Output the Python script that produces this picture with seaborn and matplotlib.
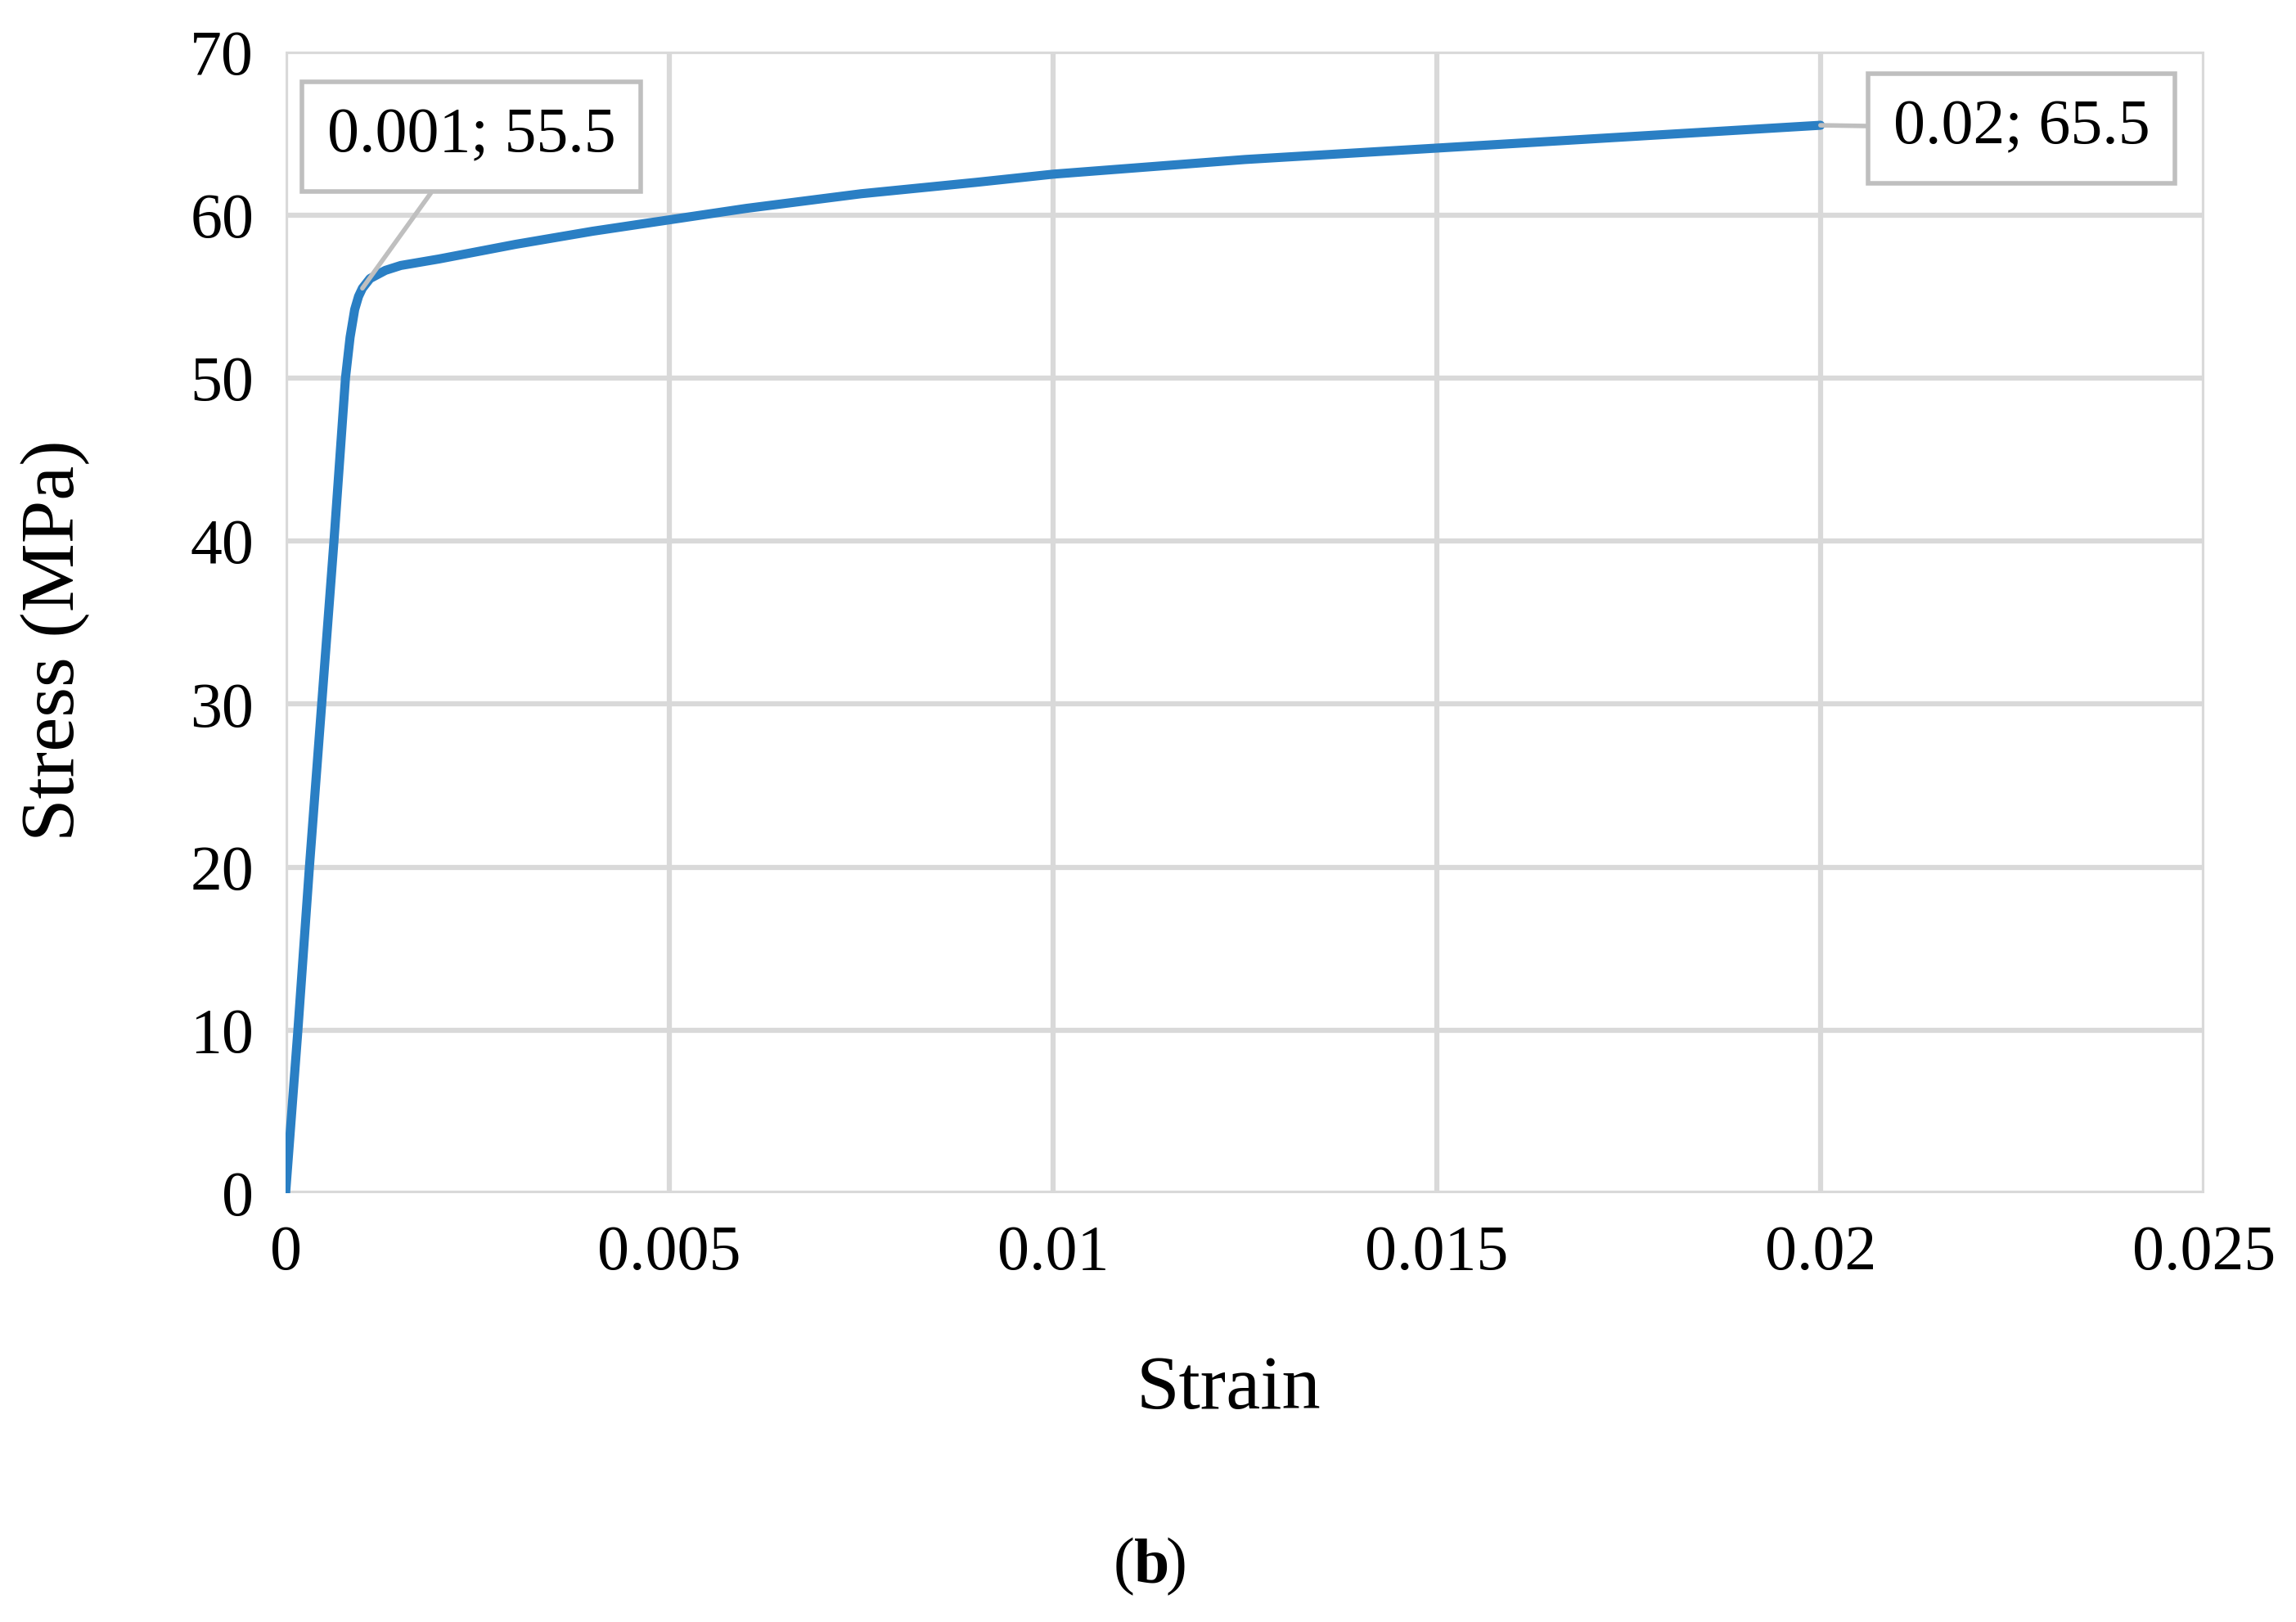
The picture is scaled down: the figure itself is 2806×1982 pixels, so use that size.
import matplotlib
matplotlib.use("Agg")
import matplotlib.pyplot as plt
import seaborn as sns
import pandas as pd

strain = [0, 0.00016, 0.00031, 0.00047, 0.00063, 0.00072, 0.00078, 0.00084, 0.0009, 0.00095, 0.001,
          0.0011, 0.0013, 0.0015, 0.002, 0.003, 0.004, 0.005, 0.006, 0.0075, 0.009, 0.01,
          0.0125, 0.015, 0.0175, 0.02]
stress = [0, 10, 20, 30, 40, 46, 50, 52.5, 54.2, 55.0, 55.5,
          56.1, 56.6, 56.9, 57.3, 58.2, 59.0, 59.7, 60.4, 61.3, 62.0, 62.5,
          63.4, 64.1, 64.8, 65.5]
xticks = [0, 0.005, 0.01, 0.015, 0.02, 0.025]
xticklabels = ["0", "0.005", "0.01", "0.015", "0.02", "0.025"]
yticks = [0, 10, 20, 30, 40, 50, 60, 70]

sns.set_theme(style="white")
plt.rcParams['font.family'] = ['Liberation Serif', 'DejaVu Serif']
plt.rcParams['text.color'] = 'black'

df = pd.DataFrame({"Strain": strain, "Stress": stress})
fig = plt.figure(figsize=(28.06, 19.82), dpi=100)
ax = fig.add_axes([0.1244, 0.2644, 0.8356, 0.7036])
sns.lineplot(data=df, x="Strain", y="Stress", ax=ax, color="#2a7fc4", lw=8, sort=False)
ax.set_xlim(0, 0.025)
ax.set_ylim(0, 70)
ax.set_xticks(xticks)
ax.set_xticklabels(xticklabels)
ax.set_yticks(yticks)
ax.grid(True, color="#d9d9d9", lw=4.5)
ax.set_axisbelow(True)
for s in ax.spines.values():
    s.set_visible(False)
ax.tick_params(labelsize=56, length=0, pad=28, labelcolor="black")
ax.set_xlabel("")
ax.set_ylabel("")
fig.text(0.535, 0.143, "Strain", fontsize=68, ha="center", va="center", color="black")
fig.text(0.024, 0.605, "Stress (MPa)", fontsize=68, ha="center", va="center", rotation=90, color="black")
fig.text(0.494, 0.034, "(", fontsize=56, ha="right", va="center", color="black")
fig.text(0.494, 0.034, "b", fontsize=56, ha="left", va="center", fontweight="bold", color="black")
fig.text(0.494 + 0.0135, 0.034, ")", fontsize=56, ha="left", va="center", color="black")

bbox = dict(boxstyle="square,pad=0.4", fc="white", ec="#bfbfbf", lw=4)
ax.annotate("0.001; 55.5", xy=(strain[10], stress[10]), xytext=(0.00242, 64.8),
            fontsize=56, ha="center", va="center", bbox=bbox, color="black",
            arrowprops=dict(arrowstyle="-", color="#bfbfbf", lw=4, shrinkA=0, shrinkB=0))
ax.annotate("0.02; 65.5", xy=(strain[-1], stress[-1]), xytext=(0.02262, 65.3),
            fontsize=56, ha="center", va="center", bbox=bbox, color="black",
            arrowprops=dict(arrowstyle="-", color="#bfbfbf", lw=4, shrinkA=0, shrinkB=0))
fig.savefig("out.png", dpi=100, facecolor="white")
